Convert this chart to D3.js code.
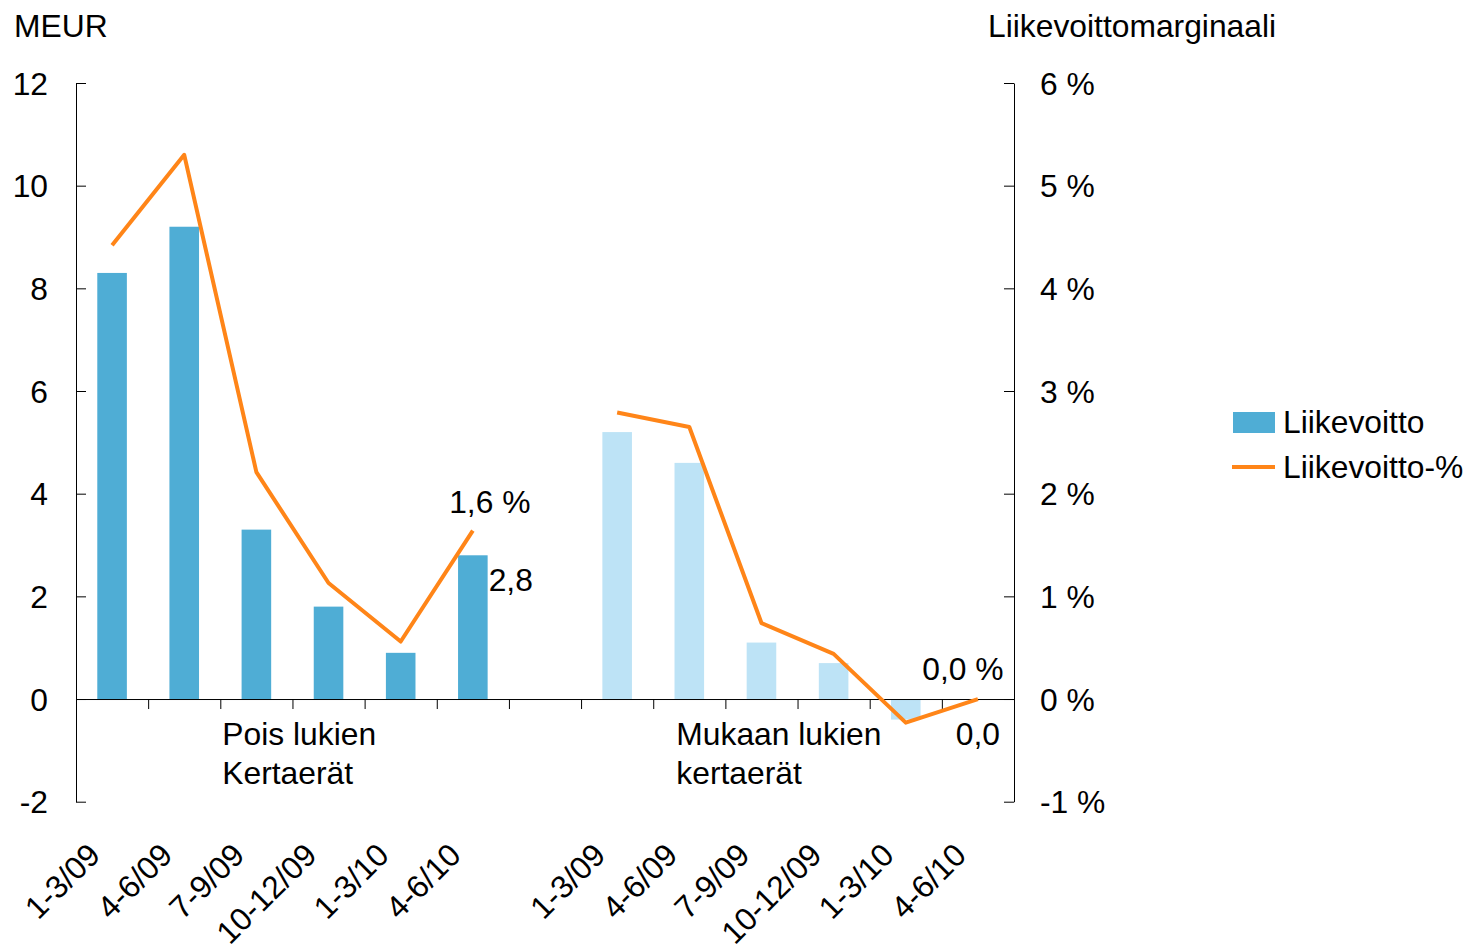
<!DOCTYPE html>
<html>
<head>
<meta charset="utf-8">
<script src="https://cdn.jsdelivr.net/npm/d3@7"></script>
<style>
  body { margin: 0; background: #fff; }
  text { font-family: "Liberation Sans", Arial, sans-serif; font-size: 31.8px; fill: #000; }
</style>
</head>
<body>
<svg id="chart" width="1471" height="944"></svg>
<script>
// data
const quarters = ['1-3/09', '4-6/09', '7-9/09', '10-12/09', '1-3/10', '4-6/10'];
const groupNames = [['Pois lukien', 'Kertaerät'], ['Mukaan lukien', 'kertaerät']];
const profitExcl = [8.3, 9.2, 3.3, 1.8, 0.9, 2.8];     // MEUR, excl. one-offs
const profitIncl = [5.2, 4.6, 1.1, 0.7, -0.4, 0.0];    // MEUR, incl. one-offs
const marginExcl = [4.42, 5.3, 2.21, 1.13, 0.56, 1.64]; // %
const marginIncl = [2.79, 2.65, 0.74, 0.44, -0.23, 0.0]; // %
const leftTicks = [-2, 0, 2, 4, 6, 8, 10, 12];
const rightTicks = [-1, 0, 1, 2, 3, 4, 5, 6];

const barColors = ['#4fadd5', '#bde3f6'];
const lineColor = '#ff8518';

// build rows; an empty slot separates the two groups
const series = [[profitExcl, marginExcl], [profitIncl, marginIncl]];
const rows = [];
const keys = [];
series.forEach(([profit, margin], g) => {
  if (g > 0) keys.push('gap');
  quarters.forEach((q, i) => {
    const key = g + '|' + q;
    keys.push(key);
    rows.push({ key, q, g, profit: profit[i], margin: margin[i] });
  });
});

const svg = d3.select('#chart');
const plotLeft = 76, plotRight = 1014, plotTop = 83, plotBottom = 801.7;

const x = d3.scaleBand().domain(keys).range([plotLeft, plotRight])
  .paddingInner(0.59).paddingOuter(0.295);
const xi = d3.scaleLinear().domain([0, keys.length]).range([plotLeft, plotRight]);
const yL = d3.scaleLinear().domain([-2, 12]).range([plotBottom, plotTop]);
const yR = d3.scaleLinear().domain([-1, 6]).range([plotBottom, plotTop]);
const bw = x.bandwidth();
const cx = d => x(d.key) + bw / 2;
const comma = v => d3.format('.1f')(v).replace('.', ',');

// bars
svg.append('g').selectAll('rect')
  .data(rows)
  .join('rect')
  .attr('x', d => x(d.key))
  .attr('width', bw)
  .attr('y', d => yL(Math.max(0, d.profit)))
  .attr('height', d => Math.abs(yL(d.profit) - yL(0)))
  .attr('fill', d => barColors[d.g]);

// zero line with category ticks
svg.append('g')
  .attr('transform', `translate(0,${yL(0)})`)
  .call(d3.axisBottom(xi).tickValues(d3.range(keys.length + 1)).tickSize(10).tickSizeOuter(0).tickFormat(''));

// left axis
svg.append('g')
  .attr('transform', `translate(${plotLeft},0)`)
  .call(d3.axisLeft(yL).tickValues(leftTicks).tickSizeInner(-10).tickSizeOuter(0).tickFormat(d => d))
  .selectAll('text')
  .attr('x', -28)
  .attr('dy', '0.35em');

// right axis
svg.append('g')
  .attr('transform', `translate(${plotRight},0)`)
  .call(d3.axisRight(yR).tickValues(rightTicks).tickSizeInner(-10).tickSizeOuter(0).tickFormat(d => d + ' %'))
  .selectAll('text')
  .attr('x', 26)
  .attr('dy', '0.35em');

// margin lines
const line = d3.line().x(cx).y(d => yR(d.margin));
[0, 1].forEach(g => {
  svg.append('path')
    .datum(rows.filter(r => r.g === g))
    .attr('d', line)
    .attr('fill', 'none')
    .attr('stroke', lineColor)
    .attr('stroke-width', 4)
    .attr('stroke-linejoin', 'round');
});

// category labels, rotated
svg.append('g').selectAll('text')
  .data(rows)
  .join('text')
  .attr('text-anchor', 'end')
  .attr('transform', d => `translate(${cx(d) - 10},857) rotate(-45)`)
  .text(d => d.q);

// group labels
const groupX = [xi(2) + 2, xi(8.32)];
groupNames.forEach((lines, g) => {
  const t = svg.append('text').attr('x', groupX[g]).attr('y', 745);
  lines.forEach((s, i) => t.append('tspan').attr('x', groupX[g]).attr('dy', i ? 39 : 0).text(s));
});

// value labels on the last points
const last = [rows.filter(r => r.g === 0).pop(), rows.filter(r => r.g === 1).pop()];
svg.append('text').attr('text-anchor', 'middle')
  .attr('x', cx(last[0]) + 17).attr('y', yR(last[0].margin) - 18)
  .text(comma(last[0].margin) + ' %');
svg.append('text')
  .attr('x', x(last[0].key) + bw + 1).attr('y', yL(last[0].profit) + 36)
  .text(comma(last[0].profit));
svg.append('text').attr('text-anchor', 'middle')
  .attr('x', cx(last[1]) - 15).attr('y', yR(last[1].margin) - 19)
  .text(comma(last[1].margin) + ' %');
svg.append('text').attr('text-anchor', 'middle')
  .attr('x', cx(last[1])).attr('y', yL(last[1].profit) + 46)
  .text(comma(last[1].profit));

// axis titles
svg.append('text').attr('x', 14).attr('y', 37).text('MEUR');
svg.append('text').attr('x', 988).attr('y', 37).text('Liikevoittomarginaali');

// legend
const legend = svg.append('g');
legend.append('rect').attr('x', 1233).attr('y', 412).attr('width', 42).attr('height', 21).attr('fill', barColors[0]);
legend.append('text').attr('x', 1283).attr('y', 433).text('Liikevoitto');
legend.append('line').attr('x1', 1232).attr('x2', 1275).attr('y1', 467).attr('y2', 467)
  .attr('stroke', lineColor).attr('stroke-width', 4);
legend.append('text').attr('x', 1283).attr('y', 478).text('Liikevoitto-%');
</script>
</body>
</html>
